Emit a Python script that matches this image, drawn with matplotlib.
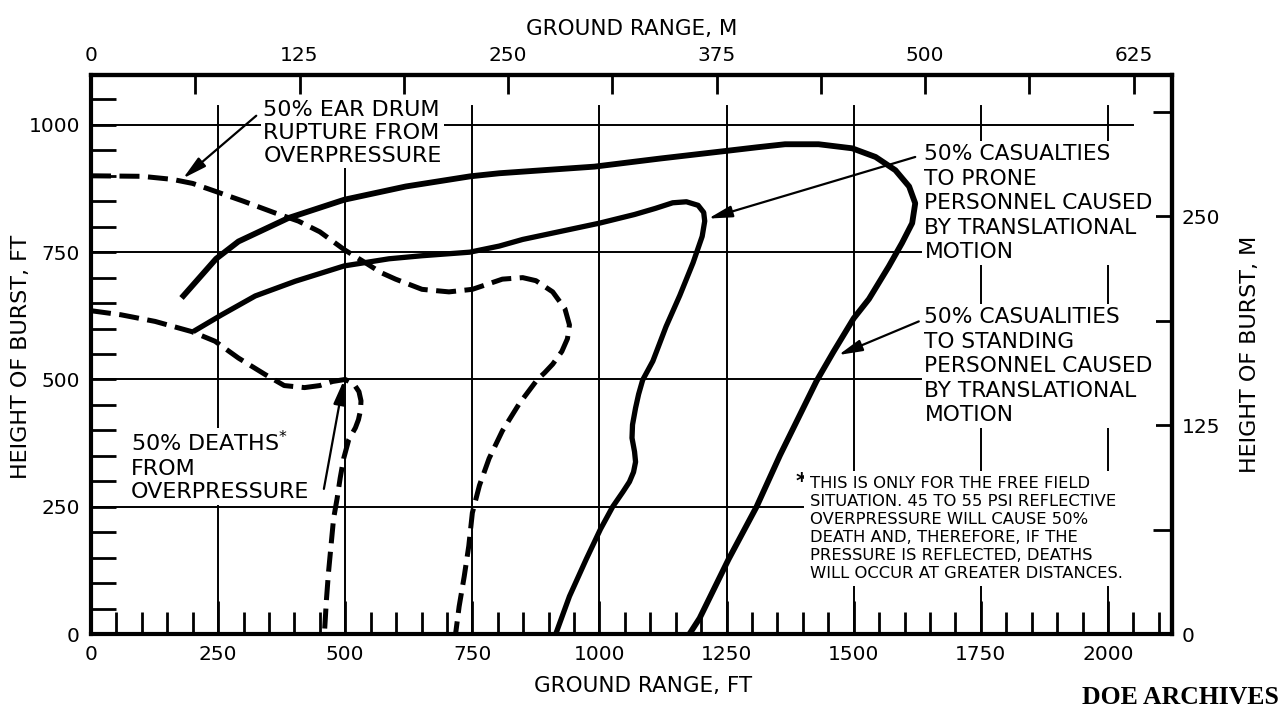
import matplotlib
matplotlib.use("Agg")
import matplotlib.pyplot as plt
from matplotlib.ticker import MultipleLocator, FixedLocator

FT_PER_M = 3.28084

# ---------------- data (ground range ft, height of burst ft) ----------------
ear_x = [0, 100, 160, 200, 246, 300, 362, 408, 450, 498, 540, 570, 599, 651, 704,
         750, 809, 849, 875, 908, 932, 941, 937, 926, 908, 892, 878, 842, 809, 783,
         764, 750, 743, 734, 724, 717]
ear_y = [900, 899, 893, 885, 869, 850, 827, 811, 790, 755, 729, 710, 697, 677, 672,
         677, 697, 700, 694, 672, 639, 607, 580, 555, 530, 513, 500, 452, 399, 345,
         292, 238, 173, 113, 54, 0]

death_x = [0, 59, 126, 198, 244, 290, 342, 380, 420, 450, 475, 500, 517, 527, 531,
           530, 526, 520, 507, 497, 490, 484, 477, 472, 467, 463, 459]
death_y = [635, 627, 614, 594, 575, 542, 510, 488, 484, 488, 496, 500, 491, 476, 458,
           439, 421, 405, 382, 345, 306, 266, 226, 173, 120, 67, 0]

prone_x = [201, 257, 323, 402, 498, 586, 651, 745, 803, 849, 1000, 1069, 1110, 1144,
           1171, 1194, 1205, 1207, 1202, 1184, 1158, 1131, 1105, 1085, 1077, 1071,
           1065, 1064, 1069, 1071, 1067, 1059, 1046, 1026, 1002, 974, 941, 914]
prone_y = [594, 627, 664, 693, 723, 737, 743, 750, 762, 775, 807, 824, 836, 847,
           849, 842, 828, 811, 781, 729, 665, 604, 536, 499, 471, 444,
           411, 385, 358, 338, 318, 299, 279, 250, 206, 147, 74, 0]

stand_x = [178, 246, 290, 388, 498, 619, 746, 803, 990, 1120, 1250, 1310, 1365, 1431,
           1497, 1543, 1582, 1609, 1621, 1615, 1595, 1569, 1530, 1500, 1460, 1427,
           1355, 1309, 1254, 1197, 1177]
stand_y = [660, 737, 771, 817, 853, 879, 899, 905, 918, 934, 949, 956, 962, 962,
           954, 937, 911, 879, 846, 807, 768, 722, 658, 620, 554, 497,
           351, 250, 147, 31, 0]

x_ticks_ft = [0, 250, 500, 750, 1000, 1250, 1500, 1750, 2000]
y_ticks_ft = [0, 250, 500, 750, 1000]
x_ticks_m = [0, 125, 250, 375, 500, 625]
y_ticks_m = [0, 125, 250]

# ---------------- figure ----------------
plt.rcParams["font.family"] = ["DejaVu Sans"]
fig = plt.figure(figsize=(12.81, 7.13), dpi=100)
W, H = 1281, 713
ax = fig.add_axes([91 / W, 79 / H, 1081 / W, 559 / H])
ax.set_xlim(0, 2126)
ax.set_ylim(0, 1098)

for s in ax.spines.values():
    s.set_linewidth(3.0)

# grid (partial, as in the original)
for gx in x_ticks_ft[1:]:
    ax.plot([gx, gx], [0, 1037], color="black", lw=1.4, zorder=1)
h_ext = {1000: 2050, 750: 1700, 500: 1700, 250: 1400}
for gy, xe in h_ext.items():
    ax.plot([0, xe], [gy, gy], color="black", lw=1.4, zorder=1)

# curves
dash = (4.0, 1.7)
ax.plot(ear_x, ear_y, color="black", lw=3.6, dashes=dash, zorder=5)
ax.plot(death_x, death_y, color="black", lw=3.6, dashes=dash, zorder=5)
ax.plot(prone_x, prone_y, color="black", lw=3.8, solid_capstyle="butt",
        solid_joinstyle="round", zorder=5)
ax.plot(stand_x, stand_y, color="black", lw=4.2, solid_capstyle="butt",
        solid_joinstyle="round", zorder=5)

# ticks
ax.xaxis.set_major_locator(FixedLocator(x_ticks_ft))
ax.yaxis.set_major_locator(FixedLocator(y_ticks_ft))
ax.xaxis.set_minor_locator(MultipleLocator(50))
ax.yaxis.set_minor_locator(MultipleLocator(50))
ax.tick_params(axis="x", which="major", direction="in", length=24, width=2,
               labelsize=14.5, pad=8, top=False)
ax.tick_params(axis="x", which="minor", direction="in", length=16, width=2, top=False)
ax.tick_params(axis="y", which="major", direction="in", length=18, width=2,
               labelsize=14.5, pad=8, right=False)
ax.tick_params(axis="y", which="minor", direction="in", length=18, width=2, right=False)

secx = ax.secondary_xaxis("top", functions=(lambda f: f / FT_PER_M, lambda m: m * FT_PER_M))
secx.xaxis.set_major_locator(FixedLocator(x_ticks_m))
secx.xaxis.set_minor_locator(MultipleLocator(62.5))
secx.tick_params(which="major", direction="in", length=14, width=2, labelsize=14.5, pad=7)
secx.tick_params(which="minor", direction="in", length=14, width=2)
secx.spines["top"].set_linewidth(3.0)

secy = ax.secondary_yaxis("right", functions=(lambda f: f / FT_PER_M, lambda m: m * FT_PER_M))
secy.yaxis.set_major_locator(FixedLocator(y_ticks_m))
secy.yaxis.set_minor_locator(MultipleLocator(62.5))
secy.tick_params(which="major", direction="in", length=14, width=2, labelsize=14.5, pad=7)
secy.tick_params(which="minor", direction="in", length=14, width=2)
secy.spines["right"].set_linewidth(3.0)

# axis labels
ax.set_xlabel("GROUND RANGE, FT", fontsize=15.5)
ax.xaxis.set_label_coords((643 - 91) / 1081, (634 - 676) / 559)
ax.set_ylabel("HEIGHT OF BURST, FT", fontsize=16)
ax.yaxis.set_label_coords((31 - 91) / 1081, (634 - 357) / 559)
secx.set_xlabel("GROUND RANGE, M", fontsize=15.5, labelpad=8)
secy.set_ylabel("HEIGHT OF BURST, M", fontsize=16, labelpad=14)

# annotation texts
box = dict(facecolor="white", edgecolor="none", pad=2)
ax.text(339, 1049, "50% EAR DRUM\nRUPTURE FROM\nOVERPRESSURE", fontsize=16,
        ha="left", va="top", linespacing=1.18, bbox=box, zorder=3)
ax.text(1639, 962, "50% CASUALTIES\nTO PRONE\nPERSONNEL CAUSED\nBY TRANSLATIONAL\nMOTION",
        fontsize=15.7, ha="left", va="top", linespacing=1.28, bbox=box, zorder=3)
ax.text(1639, 642, "50% CASUALITIES\nTO STANDING\nPERSONNEL CAUSED\nBY TRANSLATIONAL\nMOTION",
        fontsize=15.7, ha="left", va="top", linespacing=1.28, bbox=box, zorder=3)
ax.text(78, 400, "50% DEATHS$^{*}$\nFROM\nOVERPRESSURE", fontsize=16,
        ha="left", va="top", linespacing=1.2, bbox=box, zorder=3)
ax.text(1386, 318, "*", fontsize=16, fontweight="bold", ha="left", va="top", zorder=3)
ax.text(1414, 310, "THIS IS ONLY FOR THE FREE FIELD\nSITUATION. 45 TO 55 PSI REFLECTIVE\n"
        "OVERPRESSURE WILL CAUSE 50%\nDEATH AND, THEREFORE, IF THE\n"
        "PRESSURE IS REFLECTED, DEATHS\nWILL OCCUR AT GREATER DISTANCES.",
        fontsize=11.8, ha="left", va="top", linespacing=1.24,
        bbox=dict(facecolor="white", edgecolor="none", pad=4), zorder=3)

# arrows
arr = dict(arrowstyle="-|>,head_length=0.9,head_width=0.22", lw=1.6, color="black",
           mutation_scale=16, shrinkA=0, shrinkB=0)
ax.annotate("", xy=(181, 895), xytext=(325, 1018), arrowprops=arr, zorder=6)
ax.annotate("", xy=(1214, 816), xytext=(1621, 937), arrowprops=arr, zorder=6)
ax.annotate("", xy=(1470, 548), xytext=(1628, 614), arrowprops=arr, zorder=6)
ax.annotate("", xy=(497, 498), xytext=(458, 285), arrowprops=arr, zorder=6)

fig.text(1180 / W, 1 - 698 / H, "DOE ARCHIVES", fontsize=18.5, fontweight="bold",
         family=["Liberation Serif", "DejaVu Serif"], ha="center", va="center")

fig.savefig("out.png", dpi=100, facecolor="white")
